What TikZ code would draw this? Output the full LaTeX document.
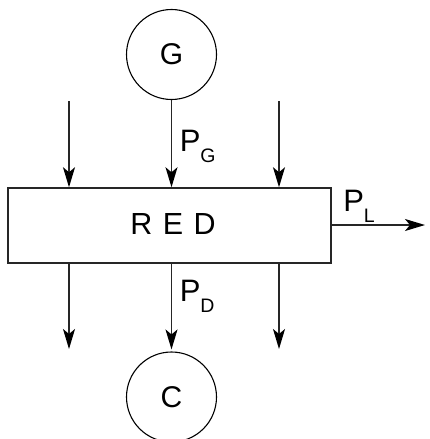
\documentclass[tikz,border=0pt]{standalone}
\usepackage{fontspec}
\setmainfont{Liberation Sans}
\usetikzlibrary{arrows.meta}
\begin{document}
\begin{tikzpicture}[x=1pt,y=-1pt,line width=1.5pt,
  ln/.style={draw=black!85},
  arr/.style={ln,-{Stealth[length=20pt,width=12pt,inset=5pt,fill=black,color=black]}},
  lbl/.style={font=\fontsize{31}{33}\selectfont,inner sep=0pt,anchor=base west},
  ball/.style={circle,draw,line width=1.1pt,minimum size=90pt,inner sep=0pt,
    font=\fontsize{30}{32}\selectfont}]
\newcommand{\sub}[1]{\raisebox{-11.5pt}{\fontsize{19.5}{20}\selectfont #1}}
\useasboundingbox (0,0) rectangle (429,439);
\node[ball] (G) at (171.5,54.5) {G};
\node[ball] (C) at (171.5,397) {C};
\node[ln,draw,minimum width=323pt,minimum height=75pt,inner sep=0pt] (red) at (169.5,225.5) {};
\node[inner sep=0pt,font=\fontsize{30.5}{32}\selectfont] (redtxt) at (173,224)
  {\spaceskip=10.5pt R E D};
\coordinate (a1) at (69,101);
\coordinate (a3) at (279,101);
\coordinate (b1) at (69,349);
\coordinate (b3) at (279,349);
\coordinate (pl) at (425,225);
\draw[arr] (a1) -- (a1 |- red.north);
\draw[arr] (a3) -- (a3 |- red.north);
\draw[arr] (G.south) -- (G.south |- red.north);
\draw[arr] (red.south -| b1) -- (b1);
\draw[arr] (red.south -| b3) -- (b3);
\draw[arr,shorten >=2pt] (red.south -| C) -- (C.north);
\draw[arr] (red.east |- pl) -- (pl);
\node[lbl] (pg) at (179,151) {P\sub{G}};
\node[lbl] (pd) at (179,301) {P\sub{D}};
\node[lbl] (plab) at (342.5,211) {P\sub{L}};
\end{tikzpicture}
\end{document}
